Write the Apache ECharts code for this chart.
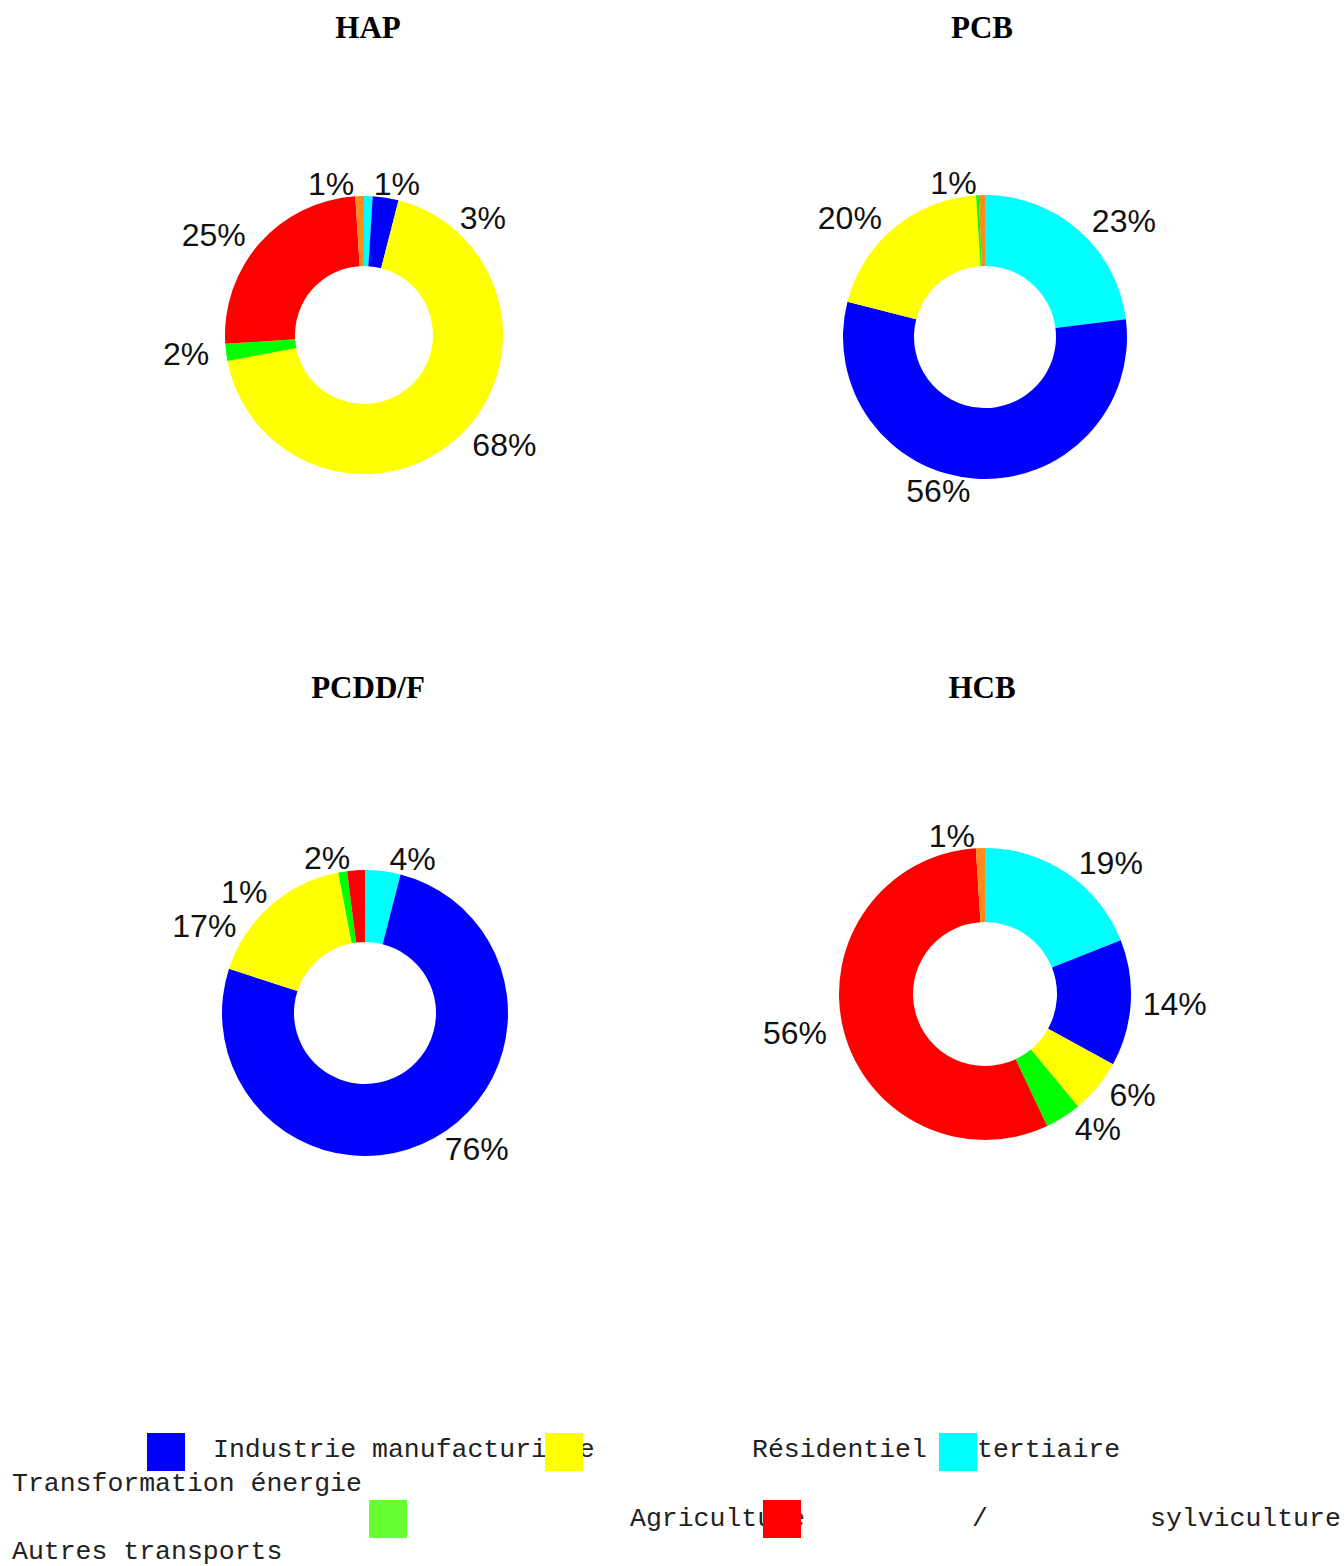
<!DOCTYPE html>
<html>
<head>
<meta charset="utf-8">
<script src="https://cdn.jsdelivr.net/npm/echarts@6/dist/echarts.min.js"></script>
<style>
  html, body { margin: 0; padding: 0; background: #fff; }
  #main { width: 1344px; height: 1566px; }
</style>
</head>
<body>
<div id="main"></div>
<script>
// secteurs, dans l'ordre des parts (sens horaire depuis midi)
const categories = ['Transformation énergie', 'Industrie manufacturière', 'Résidentiel tertiaire',
  'Agriculture / sylviculture', 'Autres transports', 'Autres'];
const sliceColors = ['#00ffff', '#0000ff', '#ffff00', '#00ff00', '#ff0000', '#ff8c1a'];

const titles = ['HAP', 'PCB', 'PCDD/F', 'HCB'];
const hapValues = [1, 3, 68, 2, 25, 1];
const pcbValues = [23, 56, 20, 0.3, 0, 0.7];
const pcddfValues = [4, 76, 17, 1, 2, 0];
const hcbValues = [19, 14, 6, 4, 56, 1];

// légende (texte cassé comme dans l'original)
const legendColors = ['#0000ff', '#ffff00', '#00ffff', '#66ff33', '#ff0000'];

let chart = echarts.init(document.getElementById('main'), null, {renderer: 'svg'});

// placement des 4 anneaux
const layout = [
  {center: [364, 335], radius: [69, 139], title: [368, 27]},
  {center: [985, 337], radius: [71, 142], title: [982, 27]},
  {center: [365, 1013], radius: [71, 143], title: [368, 687]},
  {center: [985, 994], radius: [72, 146], title: [982, 687]}
];
const allValues = [hapValues, pcbValues, pcddfValues, hcbValues];

function makeData(values) {
  return values.map(function (v, i) {
    return {
      name: categories[i],
      value: v,
      itemStyle: {color: sliceColors[i]},
      label: {show: v >= 0.5}
    };
  });
}

let series = allValues.map(function (values, k) {
  return {
    type: 'pie',
    center: layout[k].center,
    radius: layout[k].radius,
    startAngle: 90,
    clockwise: true,
    avoidLabelOverlap: true,
    silent: true,
    label: {
      show: true,
      position: 'outside',
      formatter: function (p) { return Math.round(p.value) + '%'; },
      fontFamily: 'Arial, "Liberation Sans", sans-serif',
      fontSize: 32,
      color: '#111'
    },
    labelLine: {show: false, length: 12, length2: 0},
    data: makeData(values)
  };
});

let titleGraphics = titles.map(function (t, k) {
  return {
    type: 'text',
    x: layout[k].title[0],
    y: layout[k].title[1],
    style: {
      text: t,
      font: 'bold 31px "Times New Roman", "Liberation Serif", serif',
      fill: '#000',
      textAlign: 'center',
      textVerticalAlign: 'middle'
    }
  };
});

const monoFont = '26.5px "Courier New", "Liberation Mono", monospace';
function legendText(txt, x, y) {
  return {
    type: 'text', x: x, y: y, z: 1,
    style: {text: txt, font: monoFont, fill: '#222', textAlign: 'left', textVerticalAlign: 'middle'}
  };
}
function legendBox(color, x, y) {
  return {type: 'rect', x: x, y: y, z: 5, shape: {width: 38, height: 38}, style: {fill: color}};
}

let legendGraphics = [
  legendText('Industrie manufacturière', 213, 1450),
  legendText('Résidentiel', 752, 1450),
  legendText('tertiaire', 977, 1450),
  legendText('Transformation énergie', 12, 1484),
  legendText('Agriculture', 630, 1519),
  legendText('/', 972, 1519),
  legendText('sylviculture', 1150, 1519),
  legendText('Autres transports', 12, 1552),
  legendBox(legendColors[0], 147, 1433),
  legendBox(legendColors[1], 545, 1433),
  legendBox(legendColors[2], 939, 1433),
  legendBox(legendColors[3], 369, 1500),
  legendBox(legendColors[4], 763, 1500)
];

let option = {
  backgroundColor: '#fff',
  animation: false,
  graphic: titleGraphics.concat(legendGraphics),
  series: series
};

chart.setOption(option);
</script>
</body>
</html>
